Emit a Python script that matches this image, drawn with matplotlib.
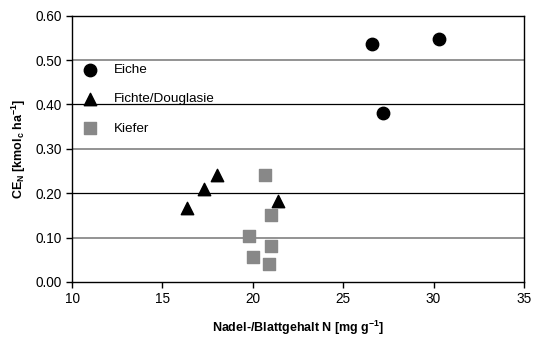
import matplotlib.pyplot as plt

plt.rcParams['font.family'] = ['Liberation Sans', 'DejaVu Sans']
plt.rcParams['mathtext.default'] = 'regular'

eiche_x = [26.6, 30.3, 27.2]
eiche_y = [0.537, 0.547, 0.380]
fichte_x = [16.35, 17.3, 18.0, 21.4]
fichte_y = [0.166, 0.210, 0.241, 0.183]
kiefer_x = [20.7, 21.0, 19.8, 21.0, 20.0, 20.9]
kiefer_y = [0.242, 0.152, 0.104, 0.081, 0.056, 0.040]

fig = plt.figure(figsize=(5.39, 3.38), dpi=100)
ax = fig.add_axes([0.1336, 0.1657, 0.8384, 0.7879])

# Gitterlinien: abwechselnd grau und schwarz wie im Original
for yv in [0.1, 0.3, 0.5]:
    ax.axhline(yv, color='#808080', lw=1.2, zorder=1)
for yv in [0.2, 0.4]:
    ax.axhline(yv, color='black', lw=0.9, zorder=1)

ax.scatter(eiche_x, eiche_y, marker='o', s=80, color='black', label='Eiche', zorder=3)
ax.scatter(fichte_x, fichte_y, marker='^', s=80, color='black', label='Fichte/Douglasie', zorder=3)
ax.scatter(kiefer_x, kiefer_y, marker='s', s=70, color='#888888', label='Kiefer', zorder=3)

ax.set_xlim(10, 35)
ax.set_ylim(0, 0.6)
ax.set_xticks([10, 15, 20, 25, 30, 35])
ax.set_yticks([0, 0.1, 0.2, 0.3, 0.4, 0.5, 0.6])
ax.set_yticklabels([f'{v:.2f}' for v in [0, 0.1, 0.2, 0.3, 0.4, 0.5, 0.6]])
ax.tick_params(labelsize=9.8, direction='out', length=4, width=1, colors='black')
for sp in ax.spines.values():
    sp.set_linewidth(1)

ax.set_xlabel('Nadel-/Blattgehalt N [mg g$^{-1}$]', fontsize=9, fontweight='bold', labelpad=9)
ax.set_ylabel('CE$_N$ [kmol$_c$ ha$^{-1}$]', fontsize=9, fontweight='bold', labelpad=5)

ax.legend(loc='upper left', bbox_to_anchor=(-0.01, 0.855), frameon=False, fontsize=9.7,
          labelspacing=1.25, handletextpad=0.75, borderaxespad=0.3)

fig.savefig('out.png', dpi=100)
